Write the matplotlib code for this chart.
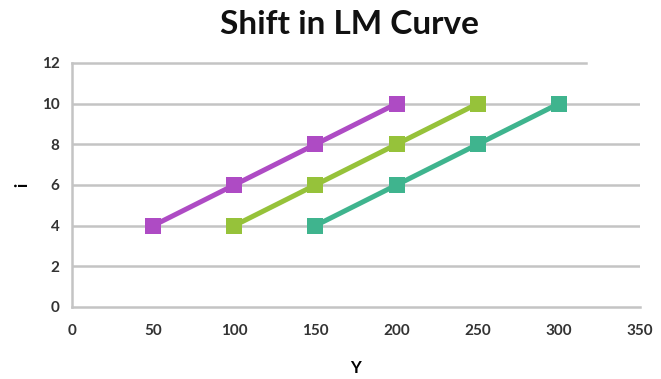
import matplotlib
matplotlib.use("Agg")
import matplotlib.pyplot as plt

# LM curve points (Y, i) for three money-supply levels
lm1_y = [50, 100, 150, 200]
lm1_i = [4, 6, 8, 10]
lm2_y = [100, 150, 200, 250]
lm2_i = [4, 6, 8, 10]
lm3_y = [150, 200, 250, 300]
lm3_i = [4, 6, 8, 10]

x_ticks = [0, 50, 100, 150, 200, 250, 300, 350]
y_ticks = [0, 2, 4, 6, 8, 10, 12]

colors = ["#AE4BC4", "#96C23A", "#3FB48E"]

plt.rcParams["font.family"] = ["Lato", "DejaVu Sans"]

fig = plt.figure(figsize=(6.61, 3.79), dpi=100)
ax = fig.add_axes([0.1089, 0.19, 0.8593, 0.6438])

ax.set_xlim(0, 350)
ax.set_ylim(0, 12)

grid_color = "#C4C4C4"
for yv in y_ticks[1:-1]:
    ax.axhline(yv, color=grid_color, lw=1.8, zorder=1)
# top gridline stops short of the right edge
ax.axhline(y_ticks[-1], xmin=0, xmax=0.905, color=grid_color, lw=1.8, zorder=1, clip_on=False)
ax.axhline(0, color=grid_color, lw=1.8, zorder=1, clip_on=False)
ax.axvline(0, color=grid_color, lw=1.8, zorder=1, clip_on=False)

for xs, ys, c in [(lm1_y, lm1_i, colors[0]), (lm2_y, lm2_i, colors[1]), (lm3_y, lm3_i, colors[2])]:
    ax.plot(xs, ys, color=c, lw=3.6, marker="s", markersize=11,
            markeredgewidth=0, zorder=3, clip_on=False)

for s in ax.spines.values():
    s.set_visible(False)

ax.set_xticks(x_ticks)
ax.set_yticks(y_ticks)
ax.tick_params(length=0, labelsize=11, labelcolor="#333333", pad=12)
ax.tick_params(axis="y", pad=9)
for lab in ax.get_xticklabels() + ax.get_yticklabels():
    lab.set_fontweight("bold")

ax.set_xlabel("Y", fontsize=12, fontweight="bold", labelpad=16)
ax.set_ylabel("i", fontsize=12, fontweight="bold", labelpad=8, rotation=90)

fig.text(0.528, 0.935, "Shift in LM Curve", ha="center", va="center",
         fontsize=24, fontweight="bold", color="#111111")

fig.savefig("out.png", dpi=100, facecolor="white")
